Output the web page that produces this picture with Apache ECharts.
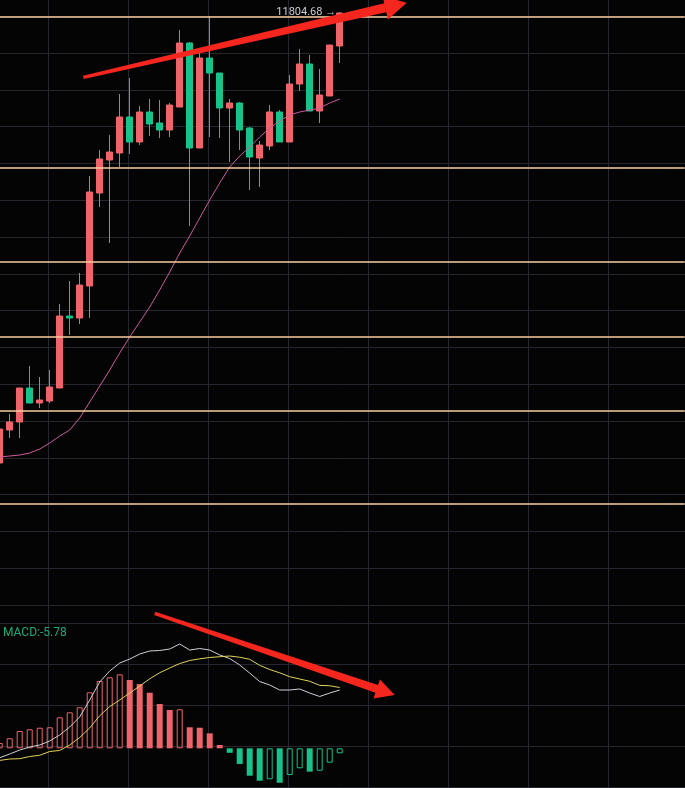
<!DOCTYPE html>
<html>
<head>
<meta charset="utf-8">
<script src="https://cdn.jsdelivr.net/npm/echarts/dist/echarts.min.js"></script>
<style>
  html, body { margin: 0; padding: 0; background: #040405; }
  #chart { width: 685px; height: 788px; }
</style>
</head>
<body>
<div id="chart"></div>
<script>
// Price bars (open / close / low / high)
const opens  = [9550, 9715, 9755, 9925, 9850, 9860, 9925, 10285, 10275, 10435, 10900, 11065, 11100, 11280, 11155, 11305, 11250, 11215, 11330, 11650, 11125, 11575, 11500, 11325, 11350, 11225, 11075, 11135, 11305, 11155, 11445, 11545, 11310, 11385, 11635];
const closes = [9720, 9755, 9925, 9850, 9865, 9930, 10285, 10275, 10440, 10905, 11070, 11105, 11280, 11155, 11305, 11245, 11215, 11340, 11650, 11125, 11575, 11500, 11325, 11350, 11215, 11080, 11140, 11305, 11155, 11445, 11545, 11310, 11390, 11640, 11800];
const lows   = [9540, 9675, 9675, 9850, 9825, 9850, 9925, 10190, 10245, 10275, 10830, 10650, 11030, 11095, 11140, 11185, 11175, 11180, 11330, 10735, 11125, 11180, 11175, 11055, 11115, 10915, 10930, 11115, 11155, 11155, 11410, 11310, 11250, 11385, 11550];
const highs  = [9730, 9795, 9925, 10035, 9980, 10015, 10345, 10460, 10500, 10985, 11115, 11190, 11395, 11475, 11335, 11370, 11365, 11350, 11715, 11655, 11600, 11785, 11500, 11370, 11355, 11230, 11160, 11340, 11315, 11490, 11620, 11590, 11520, 11640, 11804.68];

// Moving average over the closes
const maLine = [9580, 9585, 9590, 9600, 9620, 9650, 9685, 9715, 9775, 9855, 9935, 10015, 10100, 10180, 10255, 10330, 10415, 10505, 10600, 10685, 10775, 10865, 10950, 11030, 11085, 11130, 11180, 11225, 11260, 11290, 11305, 11315, 11325, 11350, 11370];

// MACD panel
const difLine = [-10.9, -6.6, -2.0, 1.5, 3.8, 8.4, 15.4, 24.6, 36.2, 55.8, 76.6, 89.4, 98.6, 103.2, 109.0, 112.5, 113.1, 114.8, 120.6, 113.6, 115.4, 113.6, 107.9, 103.8, 96.3, 87.0, 77.2, 73.2, 67.4, 67.4, 68.6, 63.9, 59.9, 63.9, 67.4];
const deaLine = [-14.0, -12.4, -12.0, -9.5, -8.1, -3.7, -2.5, 3.8, 12.5, 23.5, 37.7, 48.3, 55.8, 63.9, 72.0, 80.3, 87.4, 92.8, 98.0, 101.5, 103.5, 105.0, 105.9, 106.7, 105.3, 102.9, 95.9, 91.1, 87.3, 82.8, 80.1, 77.5, 72.8, 72.3, 70.3];
const macdHist = [6.1, 11.6, 20.0, 22.0, 23.8, 24.3, 35.8, 41.6, 47.4, 64.7, 77.8, 82.1, 85.5, 79.0, 74.3, 64.3, 51.2, 44.3, 45.1, 24.3, 23.8, 17.3, 3.8, -5.2, -18.1, -31.7, -37.5, -35.8, -39.8, -30.9, -23.1, -27.0, -25.9, -16.6, -5.78];

// Horizontal price levels drawn across the chart
const priceLevels = [11780, 11025, 10555, 10180, 9810, 9345];

// Trend arrows: [barIndex, value] from tail to tip
const priceArrow = [[8.36, 11478], [40.7, 11851]];
const macdArrow  = [[15.5, 156], [39.5, 61.6]];

// Bar slots on the time axis (filled bars plus empty room on the right)
const slotCount = 69;
const slots = Array.from({ length: slotCount }, (_, i) => String(i));

const UP = '#ef646a';
const DOWN = '#17c28b';
const GRID_LINE = '#25262e';
const LEVEL = '#f7cd9e';
const ARROW = '#f4261d';
const FONT = 'Roboto, "Noto Sans", sans-serif';

const ohlc = opens.map((o, i) => [o, closes[i], lows[i], highs[i]]);

const histItems = macdHist.map((v, i) => {
  const c = v >= 0 ? UP : DOWN;
  const rising = i === 0 || v > macdHist[i - 1];
  return rising
    ? { value: v, itemStyle: { color: 'rgba(0,0,0,0)', borderColor: c, borderWidth: 1 } }
    : { value: v, itemStyle: { color: c, borderWidth: 0 } };
});

const hiddenAxis = { show: true, axisLine: { show: false }, axisTick: { show: false }, axisLabel: { show: false } };
const gridLines = { show: true, lineStyle: { color: GRID_LINE, width: 1 } };

const chart = echarts.init(document.getElementById('chart'), null, { renderer: 'canvas' });

chart.setOption({
  backgroundColor: '#040405',
  animation: false,
  grid: [
    { left: -32, top: 0, width: 800, height: 788, outerBoundsMode: 'none' },      // vertical guides
    { left: 0, top: 16.2, width: 685, height: 588.8, outerBoundsMode: 'none' },   // price guides
    { left: 0, top: 623.6, width: 685, height: 163.6, outerBoundsMode: 'none' },  // MACD guides
    { left: -5.3, top: 0, width: 690, height: 605, outerBoundsMode: 'none' },     // price bars
    { left: -5.3, top: 605, width: 690, height: 183, outerBoundsMode: 'none' }    // MACD
  ],
  xAxis: [
    Object.assign({ type: 'value', gridIndex: 0, min: 0, max: 800, interval: 80, splitLine: gridLines }, hiddenAxis),
    Object.assign({ type: 'value', gridIndex: 1, min: 0, max: 1, splitLine: { show: false } }, hiddenAxis),
    Object.assign({ type: 'value', gridIndex: 2, min: 0, max: 1, splitLine: { show: false } }, hiddenAxis),
    Object.assign({ type: 'category', gridIndex: 3, data: slots, boundaryGap: true, splitLine: { show: false } }, hiddenAxis),
    Object.assign({ type: 'category', gridIndex: 4, data: slots, boundaryGap: true, splitLine: { show: false } }, hiddenAxis)
  ],
  yAxis: [
    Object.assign({ type: 'value', gridIndex: 0, min: 0, max: 1, splitLine: { show: false } }, hiddenAxis),
    Object.assign({ type: 'value', gridIndex: 1, min: 0, max: 16, interval: 1, splitLine: gridLines }, hiddenAxis),
    Object.assign({ type: 'value', gridIndex: 2, min: 0, max: 4, interval: 1, splitLine: gridLines }, hiddenAxis),
    Object.assign({ type: 'value', gridIndex: 3, min: 8840, max: 11865, scale: true, splitLine: { show: false } }, hiddenAxis),
    Object.assign({ type: 'value', gridIndex: 4, min: -45.9, max: 165.7, splitLine: { show: false } }, hiddenAxis)
  ],
  series: [
    {
      type: 'candlestick',
      xAxisIndex: 3, yAxisIndex: 3,
      data: ohlc,
      barWidth: 6,
      itemStyle: { color: UP, color0: DOWN, borderColor: UP, borderColor0: DOWN, borderWidth: 1 },
      markLine: {
        silent: true,
        symbol: ['none', 'none'],
        label: { show: false },
        lineStyle: { color: LEVEL, width: 1.5, type: 'solid' },
        emphasis: { disabled: true },
        data: priceLevels.map(v => ({ yAxis: v }))
      },
      markPoint: {
        silent: true,
        symbol: 'circle',
        symbolSize: 1,
        itemStyle: { color: 'rgba(0,0,0,0)' },
        label: {
          show: true,
          position: 'left',
          distance: 3,
          color: '#cacbd1',
          fontSize: 11,
          fontFamily: FONT,
          formatter: p => p.value + ' \u2192'
        },
        data: [{ type: 'max', valueDim: 'highest' }]
      }
    },
    {
      type: 'line',
      xAxisIndex: 3, yAxisIndex: 3,
      data: maLine,
      showSymbol: false,
      symbol: 'none',
      lineStyle: { color: '#cc5c9c', width: 1 }
    },
    {
      type: 'bar',
      xAxisIndex: 4, yAxisIndex: 4,
      data: histItems,
      barWidth: 6
    },
    {
      type: 'line',
      xAxisIndex: 4, yAxisIndex: 4,
      data: difLine,
      showSymbol: false,
      symbol: 'none',
      lineStyle: { color: '#cfd0d6', width: 1 }
    },
    {
      type: 'line',
      xAxisIndex: 4, yAxisIndex: 4,
      data: deaLine,
      showSymbol: false,
      symbol: 'none',
      lineStyle: { color: '#e0d35a', width: 1 }
    }
  ]
});

// Map a (fractional) bar index and value to pixels in the given panel
function toPx(axisIndex, k, v) {
  const finder = { xAxisIndex: axisIndex, yAxisIndex: axisIndex };
  const p0 = chart.convertToPixel(finder, [0, v]);
  const p1 = chart.convertToPixel(finder, [1, v]);
  return [p0[0] + k * (p1[0] - p0[0]), p0[1]];
}

// Tapered arrow polygon from tail to tip
function arrowShape(tail, tip, w0, w1, headLen, headHalf) {
  const dx = tip[0] - tail[0], dy = tip[1] - tail[1];
  const len = Math.hypot(dx, dy);
  const ux = dx / len, uy = dy / len;
  const nx = -uy, ny = ux;
  const bx = tip[0] - ux * headLen, by = tip[1] - uy * headLen;
  return [
    [tail[0] + nx * w0 / 2, tail[1] + ny * w0 / 2],
    [bx + nx * w1 / 2, by + ny * w1 / 2],
    [bx + nx * headHalf, by + ny * headHalf],
    tip,
    [bx - nx * headHalf, by - ny * headHalf],
    [bx - nx * w1 / 2, by - ny * w1 / 2],
    [tail[0] - nx * w0 / 2, tail[1] - ny * w0 / 2]
  ];
}

const pTail = toPx(3, priceArrow[0][0], priceArrow[0][1]);
const pTip = toPx(3, priceArrow[1][0], priceArrow[1][1]);
const mTail = toPx(4, macdArrow[0][0], macdArrow[0][1]);
const mTip = toPx(4, macdArrow[1][0], macdArrow[1][1]);

chart.setOption({
  graphic: [
    {
      type: 'polygon', silent: true, z: 100,
      shape: { points: arrowShape(pTail, pTip, 3.5, 9, 22, 12) },
      style: { fill: ARROW }
    },
    {
      type: 'polygon', silent: true, z: 100,
      shape: { points: arrowShape(mTail, mTip, 3.5, 8, 19, 10) },
      style: { fill: ARROW }
    },
    {
      type: 'text', left: 3, top: 627, silent: true,
      style: {
        text: 'MACD:' + macdHist[macdHist.length - 1].toFixed(2),
        fill: '#20a97b',
        font: '12px ' + FONT
      }
    }
  ]
});
</script>
</body>
</html>
